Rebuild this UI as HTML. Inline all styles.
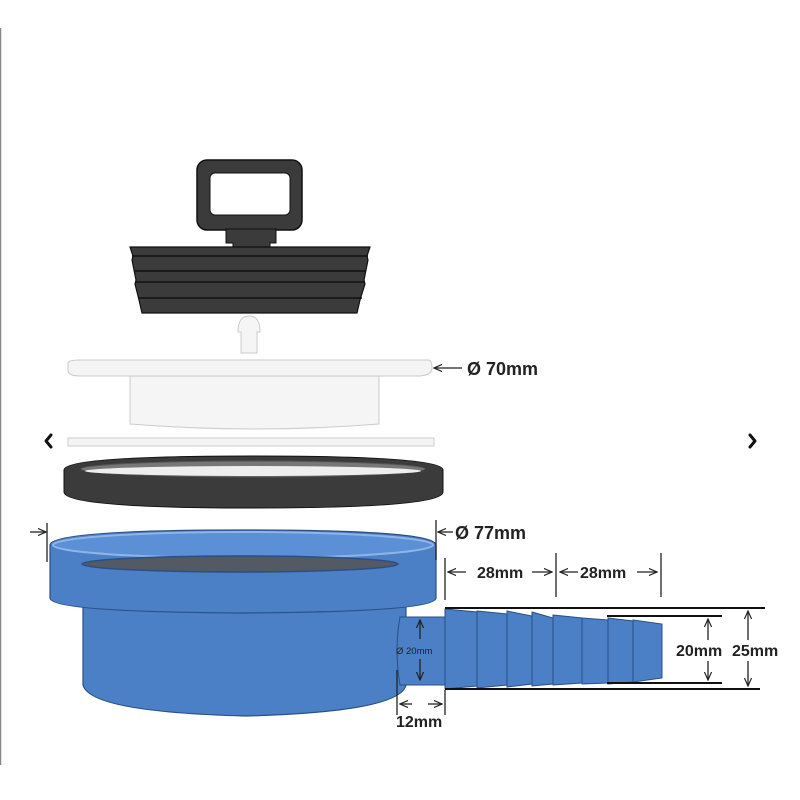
<!DOCTYPE html>
<html><head><style>
body{margin:0;background:#fff;}
svg{display:block;font-family:"Liberation Sans",sans-serif;}
</style></head><body>
<svg width="800" height="800" viewBox="0 0 800 800">
<defs>
<marker id="a" viewBox="0 0 10 10" refX="9" refY="5" markerWidth="7" markerHeight="7" orient="auto-start-reverse"><path d="M0,1 L9,5 L0,9" fill="none" stroke="#222" stroke-width="1.3"/></marker>
</defs>
<line x1="0.5" y1="28" x2="0.5" y2="765" stroke="#888" stroke-width="1.5"/>
<!-- handle -->
<rect x="197" y="160" width="105" height="70" rx="10" fill="#3b3b3b" stroke="#111" stroke-width="1.5"/>
<rect x="210" y="173" width="80" height="42" rx="5" fill="#fff" stroke="#111"/>
<path d="M226,229 H276 V243 H270 V249 H233 V243 H226 Z" fill="#3b3b3b" stroke="#111"/>
<!-- plug -->
<path d="M130,247 H370 L367,256 L368,260 L364,280 L365,284 L360,300 L357,313 H142 L139,300 L135,284 L136,280 L132,260 L133,256 Z" fill="#3b3b3b" stroke="#111" stroke-width="1.2"/>
<g stroke="#111" stroke-width="1.5"><line x1="132" y1="256" x2="368" y2="256"/><line x1="134" y1="271" x2="366" y2="271"/><line x1="135" y1="282" x2="365" y2="282"/><line x1="138" y1="298" x2="362" y2="298"/></g>
<!-- pin -->
<path d="M241,353 V332 H238 Q238,316 249,316 Q260,316 260,332 H257 V353 Z" fill="#f5f5f5" stroke="#ccc"/>
<!-- disc -->
<path d="M130,375 H379 V424 Q255,434 130,424 Z" fill="#f5f5f5" stroke="#ccc"/>
<path d="M68,363 Q68,360 80,360 H428 Q432,360 432,368 Q432,375 420,376 H80 Q68,376 68,370 Z" fill="#f4f4f4" stroke="#c8c8c8"/>
<rect x="68" y="438" width="366" height="8" fill="#f4f4f4" stroke="#ccc"/>
<!-- gasket -->
<path d="M64,470 Q64,456 253,456 Q443,456 443,470 V492 Q443,508 253,508 Q64,508 64,492 Z" fill="#3b3b3b" stroke="#111"/>
<ellipse cx="253" cy="469" rx="172" ry="8" fill="#777" stroke="#555" stroke-width="1"/>
<ellipse cx="253" cy="471" rx="168" ry="5" fill="#eee"/>
<!-- blue base -->
<path d="M83,600 V685 Q90,712 245,716 Q400,712 406,685 V600 Z" fill="#4b7fc6" stroke="#2a4f85" stroke-width="1.2"/>
<path d="M50,545 Q50,530 243,530 Q436,530 436,545 V598 Q436,612 243,613 Q50,612 50,598 Z" fill="#4b7fc6" stroke="#2a4f85" stroke-width="1.2"/>
<ellipse cx="243" cy="545" rx="190" ry="13" fill="#5b8fd6" stroke="#8fb4e6" stroke-width="2"/>
<ellipse cx="240" cy="564" rx="158" ry="8" fill="#545a64" stroke="#2a4f85" stroke-width="1.5"/>
<!-- side pipe -->
<path d="M400,617 H446 V685 H400 Q394,650 400,617 Z" fill="#4b7fc6" stroke="#2a4f85"/>
<g fill="#4b7fc6" stroke="#2a4f85">
<path d="M445,609 L477,612 V686 L445,689 Z"/>
<path d="M477,611 L507,614 V685 L477,688 Z"/>
<path d="M507,611 L532,616 V684 L507,687 Z"/>
<path d="M532,612 L553,618 V684 L532,686 Z"/>
<path d="M553,615 L582,618 V683 L553,685 Z"/>
<path d="M582,618 L608,620 V683 L582,684 Z"/>
<path d="M608,618 L633,621 V682 L608,684 Z"/>
<path d="M633,620 L662,624 V678 L633,682 Z"/>
</g>
<g stroke="#111" stroke-width="2"><line x1="445" y1="608" x2="765" y2="608"/><line x1="445" y1="689" x2="760" y2="689"/><line x1="607" y1="616" x2="722" y2="616"/><line x1="607" y1="683" x2="722" y2="683"/></g>
<g stroke="#222" stroke-width="1.3" fill="none">
<line x1="47" y1="523" x2="47" y2="562"/><line x1="436" y1="520" x2="436" y2="560"/>
<line x1="30" y1="532" x2="46" y2="532" marker-end="url(#a)"/>
<line x1="453" y1="532" x2="438" y2="532" marker-end="url(#a)"/>
<line x1="445" y1="558" x2="445" y2="600"/><line x1="556" y1="553" x2="556" y2="597"/><line x1="661" y1="553" x2="661" y2="597"/>
<line x1="466" y1="572" x2="448" y2="572" marker-end="url(#a)"/>
<line x1="532" y1="572" x2="552" y2="572" marker-end="url(#a)"/>
<line x1="578" y1="572" x2="560" y2="572" marker-end="url(#a)"/>
<line x1="637" y1="572" x2="657" y2="572" marker-end="url(#a)"/>
<line x1="708" y1="640" x2="708" y2="619" marker-end="url(#a)"/>
<line x1="708" y1="661" x2="708" y2="680" marker-end="url(#a)"/>
<line x1="748" y1="640" x2="748" y2="611" marker-end="url(#a)"/>
<line x1="748" y1="661" x2="748" y2="686" marker-end="url(#a)"/>
<line x1="420" y1="639" x2="420" y2="620" marker-end="url(#a)"/>
<line x1="420" y1="659" x2="420" y2="680" marker-end="url(#a)"/>
<line x1="397" y1="670" x2="397" y2="715"/><line x1="445" y1="690" x2="445" y2="715"/>
<line x1="412" y1="704" x2="400" y2="704" marker-end="url(#a)"/>
<line x1="428" y1="704" x2="442" y2="704" marker-end="url(#a)"/>
<line x1="462" y1="368" x2="434" y2="368" marker-end="url(#a)"/>
</g>
<g stroke="#111" stroke-width="3" fill="none" stroke-linecap="round" stroke-linejoin="round">
<path d="M51,435 L46,441 L51,447"/>
<path d="M750,435 L755,441 L750,447"/>
</g>
<g font-weight="bold" fill="#222" font-size="18">
<text x="467" y="375">Ø 70mm</text>
<text x="455" y="539">Ø 77mm</text>
<text x="477" y="578" font-size="16">28mm</text>
<text x="580" y="578" font-size="16">28mm</text>
<text x="676" y="656" font-size="16">20mm</text>
<text x="732" y="656" font-size="16">25mm</text>
<text x="396" y="727" font-size="16">12mm</text>
<text x="396" y="654" font-size="9.5" font-weight="normal">Ø 20mm</text>
</g>
</svg>
</body></html>
